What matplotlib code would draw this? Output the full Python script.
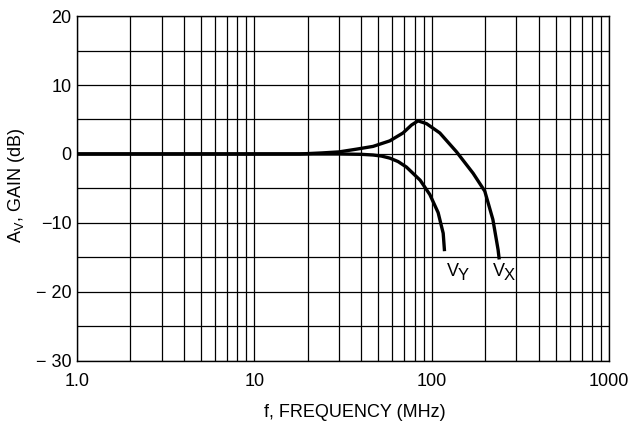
import matplotlib
matplotlib.use("Agg")
import matplotlib.pyplot as plt
from matplotlib.ticker import FixedLocator, NullFormatter

# gain curves (MHz, dB)
vx_freq = [1, 10, 18, 24, 30, 37.7, 46.7, 58, 68.9, 76.9, 83.7, 93.4, 111, 138, 171, 199, 221, 236.5, 240]
vx_gain = [0, 0, 0, 0.15, 0.3, 0.7, 1.1, 1.9, 3.05, 4.2, 4.8, 4.4, 3.05, 0.3, -2.8, -5.4, -9.5, -13.9, -15.3]

vy_freq = [1, 10, 18, 30, 40, 46.7, 52, 58, 64.6, 72, 86, 97.6, 108.6, 116, 118]
vy_gain = [0, 0, 0, 0, -0.05, -0.15, -0.3, -0.6, -1.1, -1.9, -3.8, -5.9, -8.5, -11.5, -14.1]

x_ticks = [1, 10, 100, 1000]
x_labels = ["1.0", "10", "100", "1000"]
y_ticks = [20, 10, 0, -10, -20, -30]
y_labels = ["20", "10", "0", "\u221210", "\u2212 20", "\u2212 30"]

plt.rcParams['font.family'] = ['Liberation Sans', 'DejaVu Sans']

fig = plt.figure(figsize=(6.3, 4.23), dpi=100)
ax = fig.add_axes([0.122, 0.147, 0.845, 0.815])

ax.plot(vx_freq, vx_gain, color='black', lw=2.4, solid_capstyle='butt',
        solid_joinstyle='round')
ax.plot(vy_freq, vy_gain, color='black', lw=2.4, solid_capstyle='butt',
        solid_joinstyle='round')

ax.set_xscale('log')
ax.set_xlim(1, 1000)
ax.set_ylim(-30, 20)

minor = [m * d for d in (1, 10, 100) for m in range(2, 10)]
ax.xaxis.set_major_locator(FixedLocator(x_ticks))
ax.xaxis.set_minor_locator(FixedLocator(minor))
ax.xaxis.set_minor_formatter(NullFormatter())
ax.set_xticklabels(x_labels)
ax.yaxis.set_major_locator(FixedLocator(y_ticks))
ax.yaxis.set_minor_locator(FixedLocator([15, 5, -5, -15, -25]))
ax.set_yticklabels(y_labels)

ax.grid(which='both', color='black', lw=0.9)
ax.tick_params(which='both', length=0, labelsize=13)
ax.tick_params(axis='x', pad=9)
ax.tick_params(axis='y', pad=4)
for s in ax.spines.values():
    s.set_linewidth(1.0)

ax.set_xlabel("f, FREQUENCY (MHz)", fontsize=13)
ax.xaxis.set_label_coords(0.523, -0.125)
ax.set_ylabel(r"A$_\mathregular{V}$, GAIN (dB)", fontsize=13)
ax.yaxis.set_label_coords(-0.093, 0.51)

# curve labels: letter plus a slightly smaller, lowered subscript
for f, g, sub in [(121.6, -17.0, "Y"), (220, -17.0, "X")]:
    ax.annotate("V", (f, g), fontsize=13, ha='left', va='center')
    ax.annotate(sub, (f, g), xytext=(8, -3), textcoords='offset points',
                fontsize=12, ha='left', va='center')

fig.savefig("out.png", dpi=100, facecolor='white')
